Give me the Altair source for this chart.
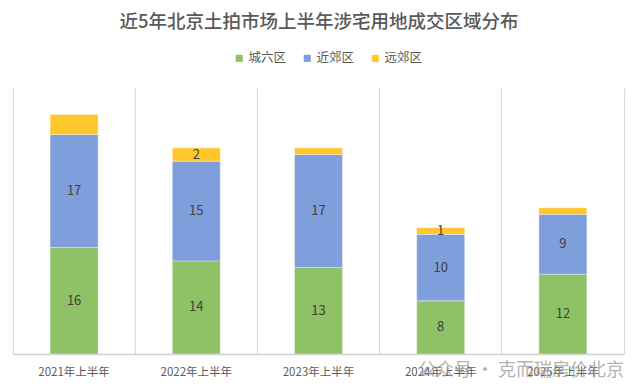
import altair as alt
import pandas as pd

title_text = "近5年北京土拍市场上半年涉宅用地成交区域分布"
years = ["2021年上半年", "2022年上半年", "2023年上半年", "2024年上半年", "2025年上半年"]
series = ["城六区", "近郊区", "远郊区"]
city6 = [16, 14, 13, 8, 12]
near = [17, 15, 17, 10, 9]
far = [3, 2, 1, 1, 1]
# labels shown in the reference (None = not labelled)
far_labels = [None, "2", None, "1", None]
colors = ["#8fc267", "#7f9fdc", "#ffc62e"]

rows = []
for i, y in enumerate(years):
    rows.append({"year": y, "series": series[0], "value": city6[i], "order": 0, "label": str(city6[i])})
    rows.append({"year": y, "series": series[1], "value": near[i], "order": 1, "label": str(near[i])})
    rows.append({"year": y, "series": series[2], "value": far[i], "order": 2, "label": far_labels[i] or ""})
df = pd.DataFrame(rows)

xenc = alt.X("year:N", sort=years, title=None,
             scale=alt.Scale(paddingInner=0, paddingOuter=0),
             axis=alt.Axis(labelAngle=0, labelFontSize=11.5, labelColor="#595959",
                           labelFont="Noto Sans CJK SC", labelPadding=12,
                           ticks=False, domainColor="#d0d0d0", domainWidth=1.5,
                           grid=True, gridColor="#d9d9d9", gridWidth=1.2, bandPosition=0))

base = alt.Chart(df).transform_stack(
    stack="value", groupby=["year"], as_=["y0", "y1"],
    sort=[alt.SortField("order", order="ascending")]
)

bars = base.mark_bar(width=48, stroke="white", strokeWidth=0.6, strokeOpacity=0.6).encode(
    x=xenc,
    y=alt.Y("y0:Q", scale=alt.Scale(domain=[0, 40], nice=False),
            axis=alt.Axis(orient="right", labels=False, ticks=False, grid=False,
                          domain=True, domainColor="#d9d9d9", domainWidth=1.2, title=None)),
    y2="y1:Q",
    color=alt.Color("series:N", sort=series,
                    scale=alt.Scale(domain=series, range=colors),
                    legend=alt.Legend(title=None, orient="none", direction="horizontal",
                                      legendX=220, legendY=-36, symbolType="square",
                                      symbolSize=50, symbolStrokeWidth=0,
                                      labelFontSize=12.5, labelColor="#595959",
                                      labelFont="Noto Sans CJK SC", columnPadding=14,
                                      symbolOffset=0, labelOffset=3)),
)

labels = base.transform_calculate(mid="(datum.y0 + datum.y1) / 2").mark_text(
    fontSize=13, color="#404040", font="Noto Sans CJK SC"
).encode(
    x=alt.X("year:N", sort=years),
    y="mid:Q",
    text="label:N",
)

title = alt.Chart(pd.DataFrame({"t": [title_text]})).mark_text(
    fontSize=18.5, color="#595959", font="Noto Sans CJK SC", fontWeight=500,
    align="center", baseline="middle"
).encode(x=alt.value(306), y=alt.value(-66), text="t:N")

watermark = alt.Chart(pd.DataFrame({"t": ["公众号 · 克而瑞房价北京"]})).mark_text(
    fontSize=18, color="#9a9a9a", opacity=0.75, align="left", font="Noto Sans CJK SC"
).encode(x=alt.value(405), y=alt.value(283), text="t:N")

chart = alt.layer(bars, labels, title, watermark).properties(
    width=611, height=266,
    autosize=alt.AutoSizeParams(type="none"),
    padding={"left": 5, "top": 80, "right": 8, "bottom": 30},
).configure_view(stroke=None)

chart.save("out.html", embed_options={"renderer": "svg", "actions": False})
